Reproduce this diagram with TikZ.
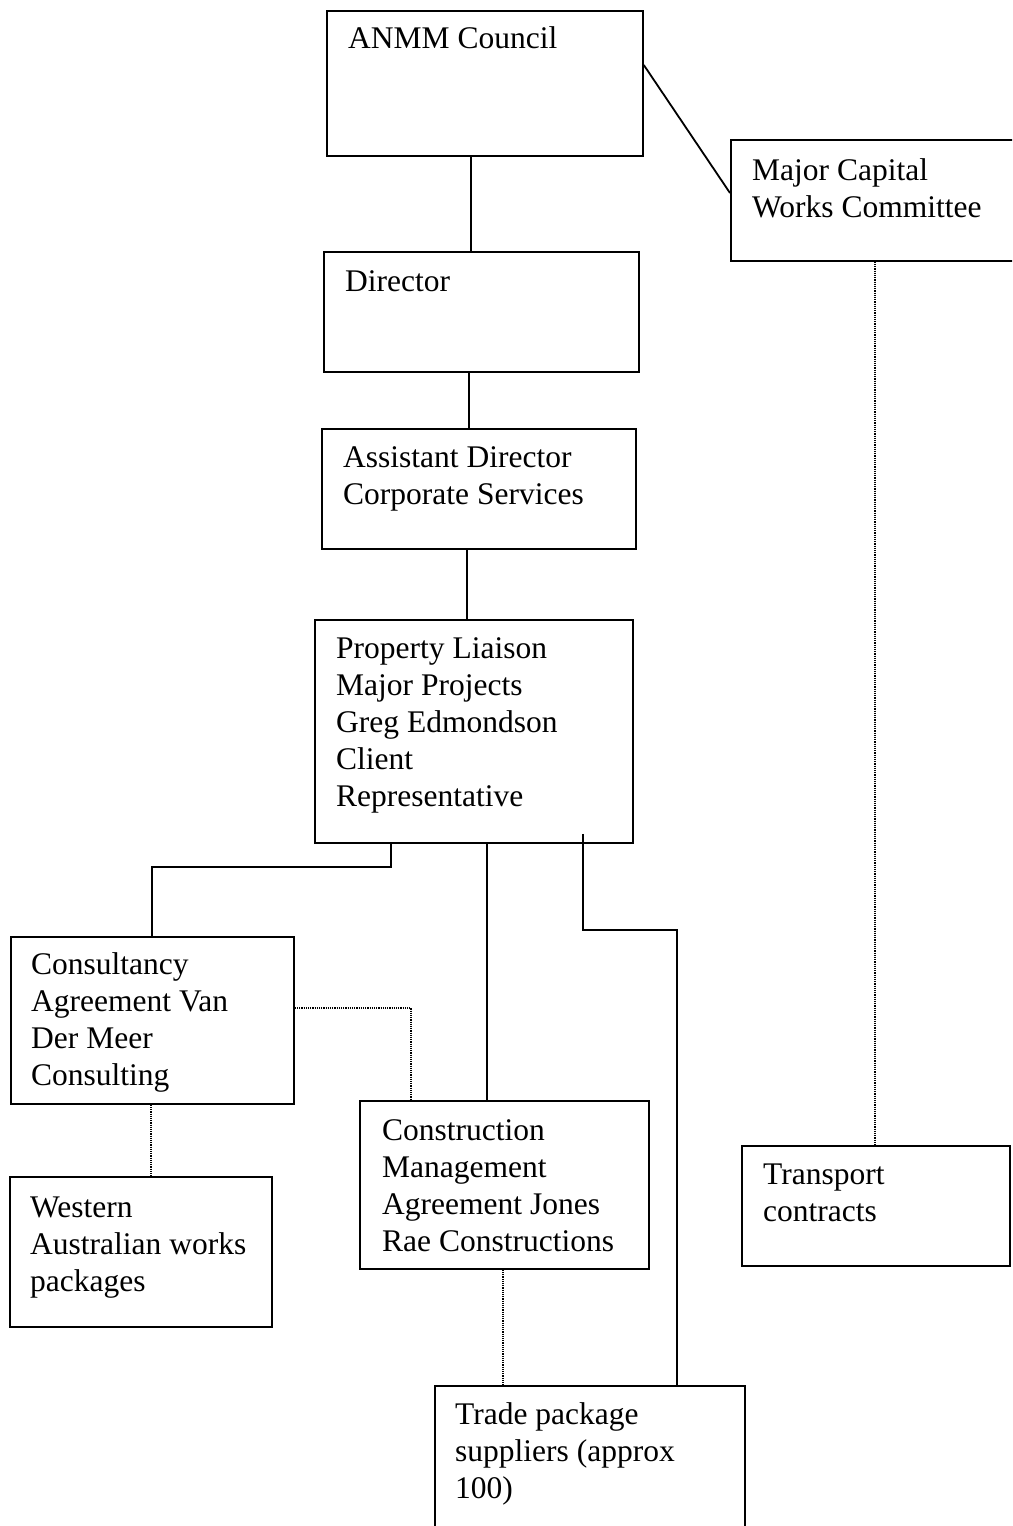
\documentclass[tikz,border=0pt]{standalone}
\usepackage{fontspec}
\setmainfont{Liberation Serif}
\usetikzlibrary{calc}
\tikzset{
  box/.style={draw, line width=1.8pt, inner sep=0pt, anchor=north west},
  lbl/.style={anchor=base west, align=left, inner sep=0pt, font=\fontsize{31.5}{37}\selectfont},
  link/.style={line width=1.8pt},
  dotlink/.style={line width=2pt, dash pattern=on 1.2pt off 1pt},
}
\begin{document}
\begin{tikzpicture}[x=1pt,y=-1pt]
\useasboundingbox (0,0) rectangle (1012,1526);
\clip (0,0) rectangle (1012,1526);
\fill[white] (0,0) rectangle (1012,1526);
% boxes
\node[box, minimum width=316, minimum height=145] (anmm) at (326,10) {};
\node[box, minimum width=300, minimum height=121] (major) at (730,139) {};
\node[box, minimum width=315, minimum height=120] (director) at (323,251) {};
\node[box, minimum width=314, minimum height=120] (asst) at (321,428) {};
\node[box, minimum width=318, minimum height=223] (prop) at (314,619) {};
\node[box, minimum width=283, minimum height=167] (cons) at (10,936) {};
\node[box, minimum width=262, minimum height=150] (west) at (9,1176) {};
\node[box, minimum width=289, minimum height=168] (constr) at (359,1100) {};
\node[box, minimum width=268, minimum height=120] (trans) at (741,1145) {};
\node[box, minimum width=310, minimum height=160] (trade) at (434,1385) {};
% texts (base anchor = baseline of the last line)
\node[lbl] (t-anmm) at (348,48) {ANMM Council};
\node[lbl] (t-major) at (752,217) {Major Capital\\Works Committee};
\node[lbl] (t-director) at (345,291) {Director};
\node[lbl] (t-asst) at (343,504) {Assistant Director\\Corporate Services};
\node[lbl] (t-prop) at (336,806) {Property Liaison\\Major Projects\\Greg Edmondson\\Client\\Representative};
\node[lbl] (t-cons) at (31,1085) {Consultancy\\Agreement Van\\Der Meer\\Consulting};
\node[lbl] (t-west) at (30,1291) {Western\\Australian works\\packages};
\node[lbl] (t-constr) at (382,1251) {Construction\\Management\\Agreement Jones\\Rae Constructions};
\node[lbl] (t-trans) at (763,1221) {Transport\\contracts};
\node[lbl] (t-trade) at (455,1498) {Trade package\\suppliers (approx\\100)};
% solid connectors
\draw[link] ($(anmm.north east)+(0,55)$) -- ($(major.north west)+(0,54)$);
\draw[link] ($(anmm.south west)+(145,0)$) -- ($(director.north west)+(148,0)$);
\draw[link] ($(director.south west)+(146,0)$) -- ($(asst.north west)+(148,0)$);
\draw[link] ($(asst.south west)+(146,0)$) -- ($(prop.north west)+(153,0)$);
\draw[link] ($(prop.south west)+(77,0)$) -- ++(0,23) -| ($(cons.north west)+(142,0)$);
\draw[link] ($(prop.south west)+(173,0)$) -- ($(constr.north west)+(128,0)$);
\draw[link] ($(prop.south west)+(269,-10)$) -- ++(0,96) -| ($(trade.north west)+(243,0)$);
% dotted connectors
\draw[dotlink] ($(cons.north east)+(0,72)$) -| ($(constr.north west)+(52,0)$);
\draw[dotlink] ($(cons.south west)+(141,0)$) -- ($(west.north west)+(142,0)$);
\draw[dotlink] ($(constr.south west)+(144,0)$) -- ($(trade.north west)+(69,0)$);
\draw[dotlink] ($(major.south west)+(145,0)$) -- ($(trans.north west)+(134,0)$);
\end{tikzpicture}
\end{document}
